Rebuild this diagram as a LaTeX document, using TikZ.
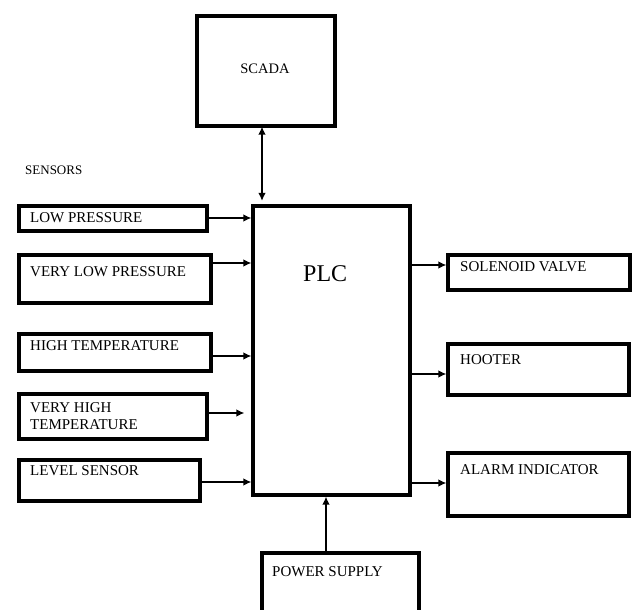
\documentclass[tikz,border=0pt]{standalone}
\usepackage{fontspec}
\setmainfont{Liberation Serif}
\usetikzlibrary{arrows.meta}
\begin{document}
\begin{tikzpicture}[x=1pt,y=-1pt,
  box/.style={draw=black,line width=3.8pt,rectangle,inner sep=0pt,outer sep=0pt},
  lbl/.style={inner sep=0pt,anchor=base west,font=\fontsize{15}{17}\selectfont},
  arr/.style={line width=1.3pt,-{Latex[length=8pt,width=7.5pt]}},
  dbl/.style={line width=1.3pt,{Latex[length=8pt,width=7.5pt]}-{Latex[length=8pt,width=7.5pt]}}]
\useasboundingbox (0,0) rectangle (638,610);
\fill[white] (0,0) rectangle (638,610);
% boxes
\node[box,minimum width=138.2pt,minimum height=110.2pt] (scada) at (266,71) {};
\node[box,minimum width=157.2pt,minimum height=289.2pt] (plc) at (331.5,350.5) {};
\node[box,minimum width=188.2pt,minimum height=25.2pt] (lowp) at (113,218.5) {};
\node[box,minimum width=192.2pt,minimum height=48.2pt] (vlowp) at (115,279) {};
\node[box,minimum width=192.2pt,minimum height=37.2pt] (hight) at (115,352.5) {};
\node[box,minimum width=188.2pt,minimum height=45.2pt] (vhight) at (113,416.5) {};
\node[box,minimum width=181.2pt,minimum height=41.2pt] (level) at (109.5,480.5) {};
\node[box,minimum width=182.2pt,minimum height=35.2pt] (sol) at (539,272.5) {};
\node[box,minimum width=181.2pt,minimum height=51.2pt] (hoot) at (538.5,369.5) {};
\node[box,minimum width=181.2pt,minimum height=63.2pt] (alarm) at (538.5,484.5) {};
\node[box,minimum width=157.2pt,minimum height=68pt] (power) at (340.5,587) {};
% texts
\node[inner sep=0pt,anchor=base,font=\fontsize{14.5}{16}\selectfont] (scadat) at (265,74) {SCADA};
\node[inner sep=0pt,anchor=base west,font=\fontsize{13}{15}\selectfont] (sens) at (25,174.5) {SENSORS};
\node[inner sep=0pt,anchor=base west,font=\fontsize{24}{26}\selectfont] (plct) at (303,281) {PLC};
\node[lbl] (lowpt) at (30,222) {LOW PRESSURE};
\node[lbl] (vlowpt) at (30,276) {VERY LOW PRESSURE};
\node[lbl] (hightt) at (30,350) {HIGH TEMPERATURE};
\node[lbl] (vhightt) at (30,412) {VERY HIGH};
\node[lbl] (vhightt2) at (30,429) {TEMPERATURE};
\node[lbl] (levelt) at (30,475) {LEVEL SENSOR};
\node[lbl] (solt) at (460,271) {SOLENOID VALVE};
\node[lbl] (hoott) at (460,364) {HOOTER};
\node[lbl] (alarmt) at (460,474) {ALARM INDICATOR};
\node[lbl] (powert) at (272,576) {POWER SUPPLY};
% connectors
\draw[dbl,shorten <=0.5pt,shorten >=5pt] (scada.south -| 262,0) -- (plc.north -| 262,0);
\draw[arr,shorten >=1.5pt] (lowp.east |- 0,218) -- (plc.west |- 0,218);
\draw[arr,shorten >=1.5pt] (vlowp.east |- 0,263) -- (plc.west |- 0,263);
\draw[arr,shorten >=1.5pt] (hight.east |- 0,356) -- (plc.west |- 0,356);
\draw[arr,shorten >=8.5pt] (vhight.east |- 0,413) -- (plc.west |- 0,413);
\draw[arr,shorten >=1.5pt] (level.east |- 0,482) -- (plc.west |- 0,482);
\draw[arr,shorten >=1.5pt] (plc.east |- 0,265) -- (sol.west |- 0,265);
\draw[arr,shorten >=1.5pt] (plc.east |- 0,374) -- (hoot.west |- 0,374);
\draw[arr,shorten >=1.5pt] (plc.east |- 0,483) -- (alarm.west |- 0,483);
\draw[arr,shorten >=1.5pt] (power.north -| 326,0) -- (plc.south -| 326,0);
\end{tikzpicture}
\end{document}
